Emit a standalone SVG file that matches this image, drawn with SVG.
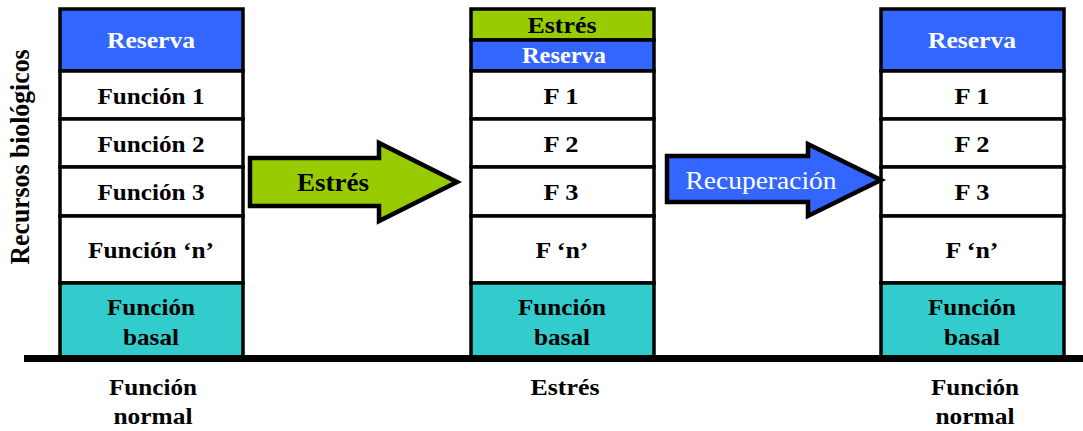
<svg xmlns="http://www.w3.org/2000/svg" width="1083" height="431" viewBox="0 0 1083 431">
<style>
.c{stroke:#000;stroke-width:3.5}
.w{fill:#fff}.b{fill:#3366FF}.g{fill:#99CC00}.t{fill:#33CCCC}
text{font-family:"Liberation Serif",Tinos,"Times New Roman","DejaVu Serif",serif;font-weight:bold;font-size:23px;text-anchor:middle;fill:#000}
.wt{fill:#fff}
.rec{font-weight:normal;font-size:25px;fill:#fff}
.arr{font-size:25px}
.vl{font-size:25.7px}
</style>
<rect width="1083" height="431" fill="#fff"/>
<g id="label-y"><text class="vl" transform="translate(29,157) scale(1.1,1) rotate(-90)" textLength="215" lengthAdjust="spacingAndGlyphs">Recursos biológicos</text></g>
<g id="col-normal">
<rect class="c b" x="60" y="9" width="183" height="62"/>
<rect class="c w" x="60" y="71" width="183" height="48"/>
<rect class="c w" x="60" y="119" width="183" height="48"/>
<rect class="c w" x="60" y="167" width="183" height="49"/>
<rect class="c w" x="60" y="216" width="183" height="67"/>
<rect class="c t" x="60" y="283" width="183" height="74"/>
<text class="wt" x="151" y="48" textLength="88" lengthAdjust="spacingAndGlyphs">Reserva</text>
<text x="151" y="104" textLength="107" lengthAdjust="spacingAndGlyphs">Función 1</text>
<text x="151" y="152" textLength="107" lengthAdjust="spacingAndGlyphs">Función 2</text>
<text x="151" y="200" textLength="107" lengthAdjust="spacingAndGlyphs">Función 3</text>
<text x="151" y="258" textLength="126" lengthAdjust="spacingAndGlyphs">Función ‘n’</text>
<text x="151" y="315" textLength="88" lengthAdjust="spacingAndGlyphs">Función</text>
<text x="151" y="345" textLength="56" lengthAdjust="spacingAndGlyphs">basal</text>
<text x="153" y="395" textLength="88" lengthAdjust="spacingAndGlyphs">Función</text>
<text x="153" y="424" textLength="79" lengthAdjust="spacingAndGlyphs">normal</text>
</g>
<g id="col-estres">
<rect class="c g" x="471" y="9" width="183" height="31"/>
<rect class="c b" x="471" y="40" width="183" height="31"/>
<rect class="c w" x="471" y="71" width="183" height="48"/>
<rect class="c w" x="471" y="119" width="183" height="48"/>
<rect class="c w" x="471" y="167" width="183" height="49"/>
<rect class="c w" x="471" y="216" width="183" height="67"/>
<rect class="c t" x="471" y="283" width="183" height="74"/>
<text x="562" y="33" textLength="69" lengthAdjust="spacingAndGlyphs">Estrés</text>
<text class="wt" x="564" y="63" textLength="84" lengthAdjust="spacingAndGlyphs">Reserva</text>
<text x="561" y="104" textLength="35" lengthAdjust="spacingAndGlyphs">F 1</text>
<text x="561" y="152" textLength="35" lengthAdjust="spacingAndGlyphs">F 2</text>
<text x="561" y="200" textLength="35" lengthAdjust="spacingAndGlyphs">F 3</text>
<text x="562" y="258" textLength="53" lengthAdjust="spacingAndGlyphs">F ‘n’</text>
<text x="562" y="315" textLength="88" lengthAdjust="spacingAndGlyphs">Función</text>
<text x="562" y="345" textLength="56" lengthAdjust="spacingAndGlyphs">basal</text>
<text x="565" y="395" textLength="69" lengthAdjust="spacingAndGlyphs">Estrés</text>
</g>
<g id="col-recuperada">
<rect class="c b" x="881" y="9" width="183" height="62"/>
<rect class="c w" x="881" y="71" width="183" height="48"/>
<rect class="c w" x="881" y="119" width="183" height="48"/>
<rect class="c w" x="881" y="167" width="183" height="49"/>
<rect class="c w" x="881" y="216" width="183" height="67"/>
<rect class="c t" x="881" y="283" width="183" height="74"/>
<text class="wt" x="972" y="48" textLength="88" lengthAdjust="spacingAndGlyphs">Reserva</text>
<text x="972" y="104" textLength="35" lengthAdjust="spacingAndGlyphs">F 1</text>
<text x="972" y="152" textLength="35" lengthAdjust="spacingAndGlyphs">F 2</text>
<text x="972" y="200" textLength="35" lengthAdjust="spacingAndGlyphs">F 3</text>
<text x="972" y="258" textLength="53" lengthAdjust="spacingAndGlyphs">F ‘n’</text>
<text x="972" y="315" textLength="88" lengthAdjust="spacingAndGlyphs">Función</text>
<text x="972" y="345" textLength="56" lengthAdjust="spacingAndGlyphs">basal</text>
<text x="975" y="395" textLength="88" lengthAdjust="spacingAndGlyphs">Función</text>
<text x="975" y="424" textLength="79" lengthAdjust="spacingAndGlyphs">normal</text>
</g>
<g id="connectors">
<rect x="24" y="355" width="1059" height="7" fill="#000"/>
<g id="arrow-estres">
<polygon points="250,158 379,158 379,143 457,182 379,221 379,206 250,206" fill="#99CC00" stroke="#000" stroke-width="4.5" stroke-linejoin="miter"/>
<text class="arr" x="333" y="191" textLength="72" lengthAdjust="spacingAndGlyphs">Estrés</text>
</g>
<g id="arrow-recuperacion">
<polygon points="667,156 808,156 808,144 881,180 808,216 808,202 667,202" fill="#3366FF" stroke="#000" stroke-width="4.5" stroke-linejoin="miter"/>
<text class="rec" x="761" y="189" textLength="151" lengthAdjust="spacingAndGlyphs">Recuperación</text>
</g>
</g>
</svg>
